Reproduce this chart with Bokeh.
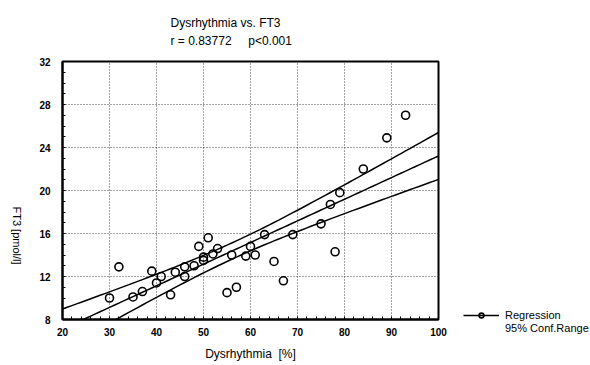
import numpy as np
from bokeh.plotting import figure
from bokeh.models import Range1d, Label, Legend, LegendItem, FixedTicker
from bokeh.embed import file_html
from bokeh.resources import INLINE

# data
dysrhythmia = [30, 32, 35, 37, 39, 40, 41, 43, 44, 46, 46, 48, 49, 50, 50, 51, 52, 53,
               55, 57, 56, 59, 60, 61, 63, 65, 67, 69, 75, 77, 78, 79, 84, 89, 93]
ft3 = [10.0, 12.9, 10.1, 10.6, 12.5, 11.4, 12.0, 10.3, 12.4, 12.9, 12.0, 13.0, 14.8, 13.5,
       13.8, 15.6, 14.1, 14.6, 10.5, 11.0, 14.0, 13.9, 14.8, 14.0, 15.9, 13.4, 11.6, 15.9,
       16.9, 18.7, 14.3, 19.8, 22.0, 24.9, 27.0]
x_ticks = [20, 30, 40, 50, 60, 70, 80, 90, 100]
y_ticks = [8, 12, 16, 20, 24, 28, 32]
t_crit = 2.035  # t(0.975, df=33)

FONT = "Liberation Sans"
NB = "\u00a0"

x = np.array(dysrhythmia, float)
y = np.array(ft3, float)
n = len(x)
b, a = np.polyfit(x, y, 1)
res = y - (a + b * x)
s = np.sqrt(np.sum(res ** 2) / (n - 2))
sxx = np.sum((x - x.mean()) ** 2)
xg = np.linspace(20, 100, 81)
yg = a + b * xg
hw = t_crit * s * np.sqrt(1.0 / n + (xg - x.mean()) ** 2 / sxx)

p = figure(frame_width=376, frame_height=258, output_backend="svg", toolbar_location=None,
           x_range=Range1d(20, 100), y_range=Range1d(8, 32),
           min_border_left=62, min_border_right=144, min_border_top=61, min_border_bottom=44)
p.background_fill_color = "white"
p.border_fill_color = "white"
p.outline_line_color = "black"
p.outline_line_width = 2

for ax in (p.xaxis[0], p.yaxis[0]):
    ax.axis_line_width = 2
    ax.major_tick_in = 0
    ax.major_tick_out = 0
    ax.minor_tick_in = 3
    ax.minor_tick_out = 0
    ax.major_label_text_font = FONT
    ax.major_label_text_font_style = "bold"
    ax.major_label_text_font_size = "10px"
    ax.major_label_text_color = "black"
p.xaxis[0].ticker = FixedTicker(ticks=x_ticks, minor_ticks=list(range(20, 101, 2)))
p.yaxis[0].ticker = FixedTicker(ticks=y_ticks, minor_ticks=list(range(8, 33, 1)))
p.xaxis[0].major_label_standoff = 8
p.yaxis[0].major_label_standoff = 12
p.xaxis[0].axis_label = "Dysrhythmia" + NB * 2 + "[%]"
p.xaxis[0].axis_label_text_font = FONT
p.xaxis[0].axis_label_text_font_style = "normal"
p.xaxis[0].axis_label_text_font_size = "12px"
p.xaxis[0].axis_label_text_color = "black"
p.xaxis[0].axis_label_standoff = 8

for ax in p.grid:
    ax.grid_line_color = "#444444"
    ax.grid_line_dash = "1 2"
    ax.grid_line_width = 1
p.xgrid.ticker = FixedTicker(ticks=x_ticks)
p.ygrid.ticker = FixedTicker(ticks=y_ticks)

# regression and confidence band
reg = p.line(xg, yg, line_color="black", line_width=1.5)
p.line(xg, yg + hw, line_color="black", line_width=1.5)
p.line(xg, yg - hw, line_color="black", line_width=1.5)
pts = p.scatter(dysrhythmia, ft3, marker="circle", size=8, fill_color=None,
                line_color="black", line_width=1.6)
dummy = p.line([], [], line_alpha=0)

legend = Legend(items=[LegendItem(label="Regression", renderers=[reg, pts]),
                       LegendItem(label="95% Conf.Range", renderers=[dummy])],
                location=(25, -15), background_fill_alpha=0, border_line_alpha=0,
                label_text_font=FONT, label_text_font_size="11px",
                label_text_color="black", glyph_width=36,
                glyph_height=12, label_height=12, spacing=1, padding=0, margin=0,
                label_standoff=6)
p.add_layout(legend, "right")

p.add_layout(Label(x=108, y=21, x_units="screen", y_units="screen",
                   text="r = 0.83772" + NB * 5 + "p<0.001", text_font=FONT,
                   text_font_size="12px", text_color="black", text_baseline="middle"),
             "above")
p.add_layout(Label(x=108, y=25, x_units="screen", y_units="screen",
                   text="Dysrhythmia vs. FT3", text_font=FONT, text_font_size="12px",
                   text_color="black", text_baseline="middle"), "above")

p.add_layout(Label(x=-8, y=84, x_units="screen", y_units="screen", angle=-np.pi / 2,
                   text="FT3 [pmol/l]", text_font=FONT, text_font_size="11px",
                   text_color="black", text_align="center", text_baseline="middle"),
             "left")

open("out.html", "w").write(file_html(p, INLINE))
